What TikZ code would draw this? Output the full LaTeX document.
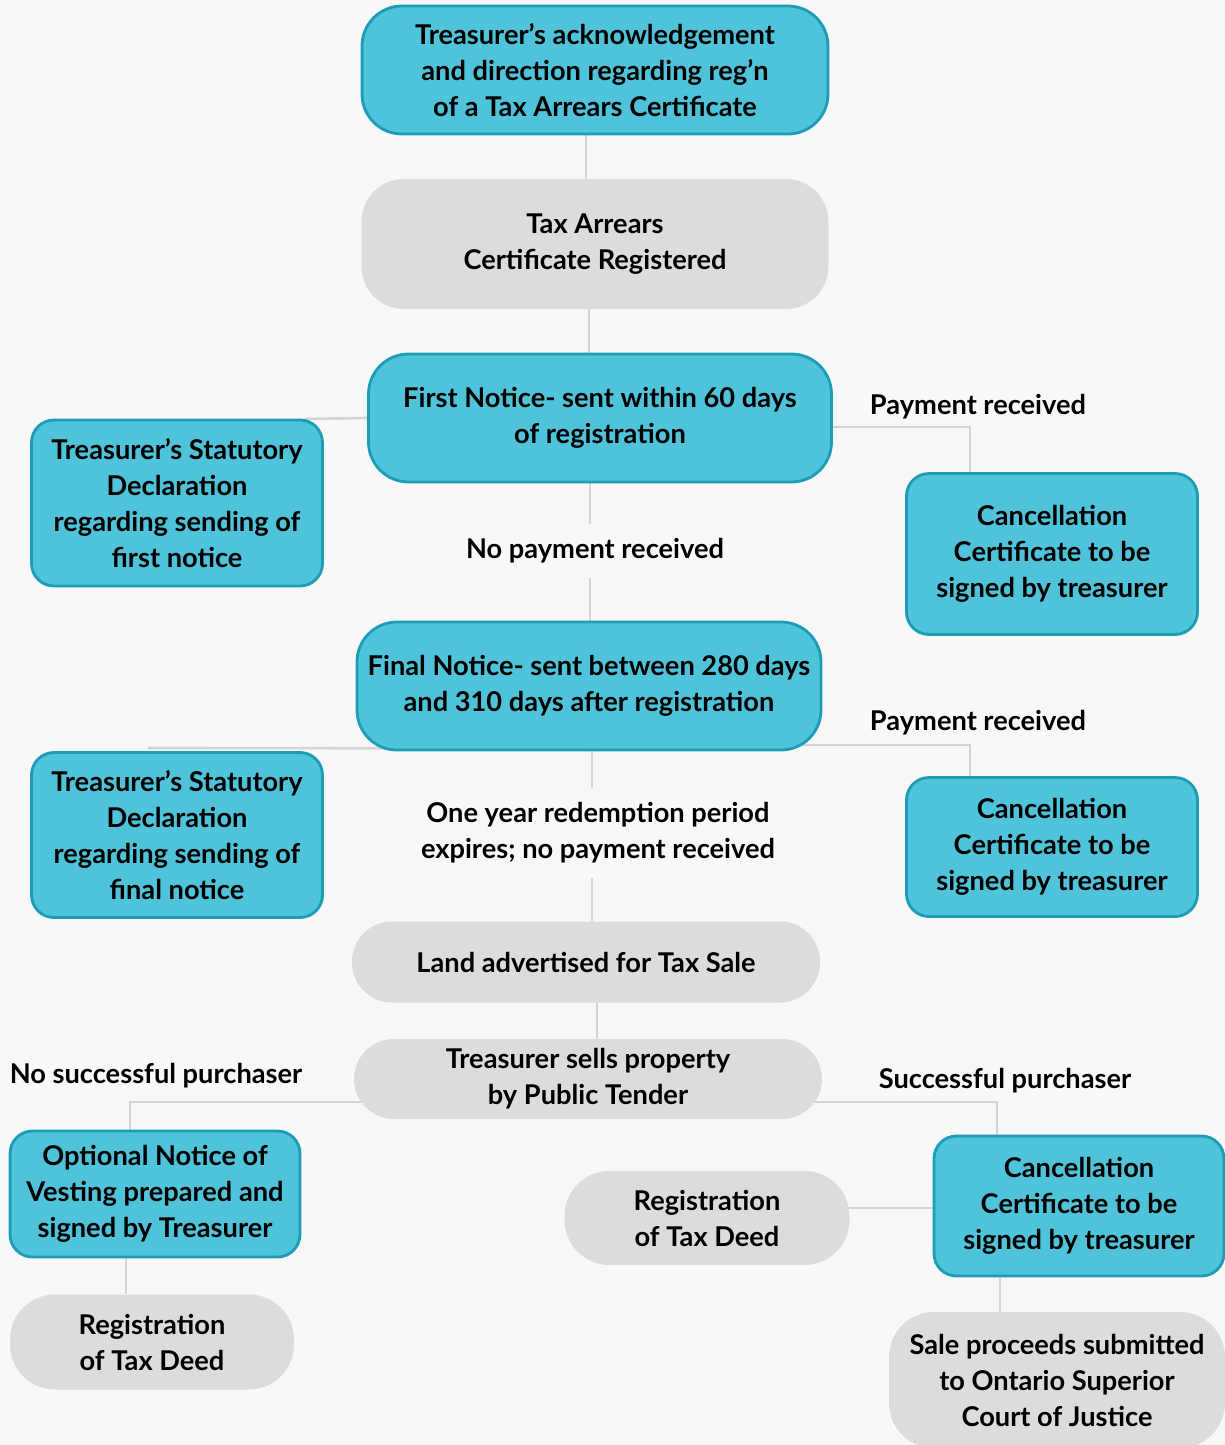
\documentclass[tikz,border=0pt]{standalone}
\usepackage{fontspec}
\setmainfont{Lato}
\usetikzlibrary{positioning}
\definecolor{tealfill}{HTML}{4FC3D9}
\definecolor{tealline}{HTML}{1C9DB6}
\definecolor{greyfill}{HTML}{DCDCDC}
\definecolor{linkgrey}{HTML}{D4D4D4}
\definecolor{pagebg}{HTML}{F8F8F8}
\pgfdeclarelayer{bg}
\pgfdeclarelayer{links}
\pgfsetlayers{bg,links,main}
\tikzset{
  txt/.style={font=\fontsize{15.5}{20.5}\selectfont\bfseries, align=center, inner sep=0pt},
  boxsize/.style 2 args={minimum width=#1*0.02cm, minimum height=#2*0.02cm},
  tealbox/.style={txt, draw=tealline, line width=1.6pt, fill=tealfill, rounded corners=0.8cm},
  tealsmall/.style={tealbox, rounded corners=0.45cm},
  greybox/.style={txt, fill=greyfill, rounded corners=0.85cm},
  link/.style={draw=linkgrey, line width=1.5pt},
  gaplabel/.style={txt, fill=pagebg, inner ysep=0.3cm}
}
\begin{document}
\begin{tikzpicture}[x=0.02cm,y=-0.02cm]
\useasboundingbox (0,0) rectangle (1225,1445);
\begin{pgfonlayer}{bg}
\fill[pagebg] (0,0) rectangle (1225,1445);
\end{pgfonlayer}
% main column
\node[tealbox, boxsize={466}{128}] (ack) at (595,70) {Treasurer’s acknowledgement\\and direction regarding reg’n\\of a Tax Arrears Certificate};
\node[greybox, boxsize={467}{130}] (reg) at (595,244) {Tax Arrears\\Certificate Registered};
\node[tealbox, boxsize={463}{128}] (first) at (600,418) {First Notice- sent within 60 days\\of registration};
\node[tealbox, boxsize={464}{128}] (final) at (589,686) {Final Notice- sent between 280 days\\and 310 days after registration};
\node[greybox, boxsize={468}{81}, rounded corners=0.8cm] (advert) at (586,962) {Land advertised for Tax Sale};
\node[greybox, boxsize={468}{80}, rounded corners=0.8cm] (sells) at (588,1079) {Treasurer sells property\\by Public Tender};
% left side
\node[tealsmall, boxsize={291}{166}] (decl1) at (177,503) {Treasurer’s Statutory\\Declaration\\regarding sending of\\first notice};
\node[tealsmall, boxsize={291}{165}] (decl2) at (177,835) {Treasurer’s Statutory\\Declaration\\regarding sending of\\final notice};
\node[tealsmall, boxsize={290}{126}] (vesting) at (155,1194) {Optional Notice of\\Vesting prepared and\\signed by Treasurer};
\node[greybox, boxsize={284}{95}, rounded corners=0.9cm] (deedleft) at (152,1342) {Registration\\of Tax Deed};
% right side
\node[tealsmall, boxsize={291}{161}] (cancel1) at (1052,554) {Cancellation\\Certificate to be\\signed by treasurer};
\node[tealsmall, boxsize={291}{139}] (cancel2) at (1052,847) {Cancellation\\Certificate to be\\signed by treasurer};
\node[tealsmall, boxsize={290}{140}] (cancel3) at (1079,1206) {Cancellation\\Certificate to be\\signed by treasurer};
\node[greybox, boxsize={285}{94}, rounded corners=0.9cm] (deedmid) at (707,1218) {Registration\\of Tax Deed};
\node[greybox, boxsize={336}{136}, rounded corners=0.9cm] (proceeds) at (1057,1380) {Sale proceeds submitted\\to Ontario Superior\\Court of Justice};
% branch points
\coordinate (pay1) at (970,427);
\coordinate (pay2) at (970,745);
\coordinate (decl1end) at (305,419);
\coordinate (decl2end) at (148,748);
\coordinate (nobuy) at (130,1102);
\coordinate (buy) at (997,1102);
% connectors
\begin{pgfonlayer}{links}
\draw[link] (ack.south -| 586,0) -- (reg.north -| 586,0);
\draw[link] (reg.south -| 589,0) -- (first.north -| 589,0);
\draw[link] (first.south -| 590,0) -- (final.north -| 590,0);
\draw[link] (final.south -| 592,0) -- (advert.north -| 592,0);
\draw[link] (advert.south -| 597,0) -- (sells.north -| 597,0);
\draw[link] (first.west) -- (decl1end);
\draw[link] (final.south) ++(0,-3) -- (decl2end);
\draw[link] (first.center |- pay1) -- (pay1) -- (pay1 |- cancel1.north);
\draw[link] (final.center |- pay2) -- (pay2) -- (pay2 |- cancel2.north);
\draw[link] (sells.center |- nobuy) -- (nobuy) -- (nobuy |- vesting.north);
\draw[link] (sells.center |- buy) -- (buy) -- (buy |- cancel3.north);
\draw[link] (vesting.south -| 126,0) -- (deedleft.north -| 126,0);
\draw[link] (deedmid.center |- 0,1208) -- (cancel3.west |- 0,1208);
\draw[link] (cancel3.south -| 1000,0) -- (proceeds.north -| 1000,0);
\end{pgfonlayer}
% labels
\node[gaplabel] (nopay) at (595,551) {No payment received};
\node[gaplabel] (expires) at (598,833) {One year redemption period\\expires; no payment received};
\node[txt] (paid1) at (978,407) {Payment received};
\node[txt] (paid2) at (978,723) {Payment received};
\node[txt] (nobuylbl) at (156,1076) {No successful purchaser};
\node[txt] (buylbl) at (1005,1081) {Successful purchaser};
\end{tikzpicture}
\end{document}
